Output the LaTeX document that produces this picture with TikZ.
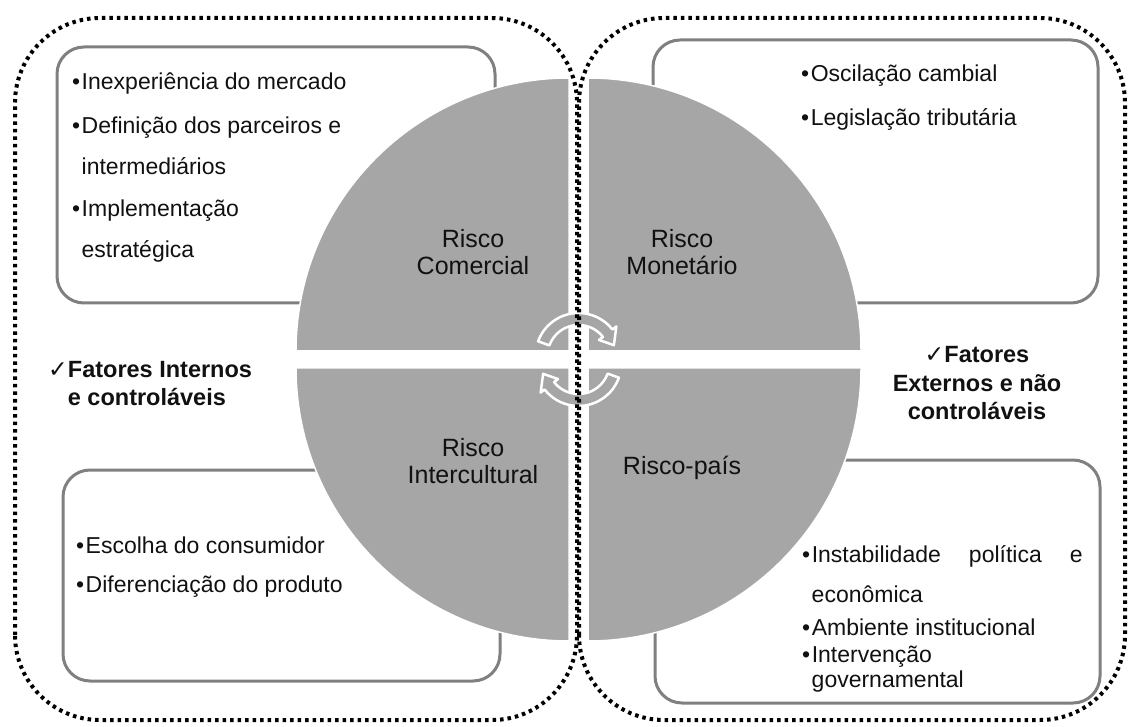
\documentclass[tikz,border=0pt]{standalone}
\usepackage{fontspec}
\setmainfont{Liberation Sans}
\newfontfamily\checkfont{DejaVu Sans}
\definecolor{quadgray}{HTML}{A6A6A6}
\definecolor{framegray}{HTML}{808080}
\definecolor{ink}{HTML}{111111}
\newcommand{\bul}{•\kern1.5pt}
\newcommand{\chk}{{\checkfont ✓}}

\tikzset{
  itembox/.style={draw=framegray, line width=3pt, rounded corners=27pt},
  fence/.style={draw=black, line width=4pt, dash pattern=on 3.5pt off 4pt, rounded corners=85pt},
  riskquad/.style={fill=quadgray, draw=white, line width=1.5pt},
  cyclearrow/.style={fill=quadgray, draw=white, line width=2.5pt, line join=round},
  bullettext/.style={anchor=base west, inner sep=0pt, text=ink, font=\fontsize{23}{27}\selectfont},
  risklabel/.style={anchor=base, inner sep=0pt, align=center, text=ink, font=\fontsize{25}{27}\selectfont},
  factor/.style={anchor=base, inner sep=0pt, text=ink, font=\bfseries\fontsize{23.5}{28.5}\selectfont}
}

\begin{document}
\begin{tikzpicture}[x=1pt, y=1pt]
  \useasboundingbox[fill=white] (0,0) rectangle (1131,726);
  % caixas de texto
  \draw[itembox] (57,423) rectangle (495,679);
  \draw[itembox] (653,423) rectangle (1098,686);
  \draw[itembox] (63,45) rectangle (500,256);
  \draw[itembox] (655,23) rectangle (1100,266);
  % quadrantes
  \path[riskquad] (569,375) -- ++(-273,0) arc[start angle=180, end angle=90, radius=273] -- cycle;
  \path[riskquad] (588,375) -- ++(0,273) arc[start angle=90, end angle=0, radius=273] -- cycle;
  \path[riskquad] (569,358) -- ++(0,-273) arc[start angle=270, end angle=180, radius=273] -- cycle;
  \path[riskquad] (588,358) -- ++(273,0) arc[start angle=0, end angle=-90, radius=273] -- cycle;
  % setas circulares
  \begin{scope}[shift={(578.5,370)}]
    \path[cyclearrow] (160:43) arc[start angle=160, end angle=38, radius=43]
      -- (38:48) -- (17:37) -- (38:26) -- (38:31)
      arc[start angle=38, end angle=160, radius=31] -- cycle;
  \end{scope}
  \begin{scope}[shift={(578.5,363)}]
    \path[cyclearrow] (-20:43) arc[start angle=-20, end angle=-142, radius=43]
      -- (-142:48) -- (-163:37) -- (-142:26) -- (-142:31)
      arc[start angle=-142, end angle=-20, radius=31] -- cycle;
  \end{scope}
  % limites pontilhados
  \draw[fence] (15,6) rectangle (577,708);
  \draw[fence] (579,6) rectangle (1125,708);
  % textos
  \node[bullettext] (inexp) at (72,636) {\bul Inexperiência do mercado};
  \node[bullettext] (defin) at (72,592) {\bul Definição dos parceiros e};
  \node[bullettext] (interm) at (81.5,551) {intermediários};
  \node[bullettext] (implem) at (72,509) {\bul Implementação};
  \node[bullettext] (estrat) at (81.5,468) {estratégica};
  \node[bullettext] (oscil) at (801,644) {\bul Oscilação cambial};
  \node[bullettext] (legis) at (801,600) {\bul Legislação tributária};
  \node[bullettext] (escolha) at (76,173) {\bul Escolha do consumidor};
  \node[bullettext] (difer) at (76,134) {\bul Diferenciação do produto};
  \node[bullettext] (instab) at (802,164) {\bul\hbox to 271pt{Instabilidade\hfill política\hfill e}};
  \node[bullettext] (econ) at (811.5,124) {econômica};
  \node[bullettext] (ambiente) at (802,91) {\bul Ambiente institucional};
  \node[bullettext] (interv) at (802,64) {\bul Intervenção};
  \node[bullettext] (govern) at (811.5,39) {governamental};
  \node[risklabel] (rComercial) at (473,451) {Risco\\Comercial};
  \node[risklabel] (rMonetario) at (682,451) {Risco\\Monetário};
  \node[risklabel] (rIntercult) at (473,243) {Risco\\Intercultural};
  \node[risklabel] (rPais) at (682,252) {Risco-país};
  \node[factor, anchor=base west, align=left] (fInternos) at (48,320) {\chk Fatores Internos\\\phantom{\chk}e controláveis};
  \node[factor, align=center] (fExternos) at (977,306) {\chk Fatores\\Externos e não\\controláveis};
\end{tikzpicture}
\end{document}
